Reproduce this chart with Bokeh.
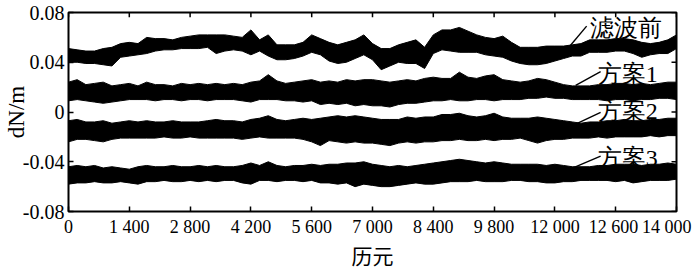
from bokeh.plotting import figure
from bokeh.models import FixedTicker, Range1d
from bokeh.core.properties import value
from bokeh.embed import file_html
from bokeh.resources import INLINE

# ---------------- data ----------------
epochs = list(range(0, 14001, 200))

raw_upper = [0.051, 0.050, 0.049, 0.049, 0.051, 0.052, 0.055, 0.056, 0.055, 0.060,
             0.059, 0.059, 0.058, 0.060, 0.061, 0.062, 0.062, 0.062, 0.062, 0.061,
             0.060, 0.066, 0.058, 0.062, 0.054, 0.054, 0.054, 0.056, 0.062, 0.059,
             0.056, 0.054, 0.056, 0.058, 0.062, 0.055, 0.051, 0.051, 0.054, 0.056,
             0.058, 0.052, 0.062, 0.066, 0.066, 0.068, 0.065, 0.062, 0.060, 0.059,
             0.061, 0.056, 0.052, 0.052, 0.052, 0.053, 0.053, 0.053, 0.054, 0.055,
             0.058, 0.058, 0.058, 0.059, 0.059, 0.058, 0.056, 0.055, 0.056, 0.058,
             0.062]
raw_lower = [0.040, 0.040, 0.039, 0.039, 0.038, 0.037, 0.044, 0.045, 0.046, 0.047,
             0.049, 0.050, 0.050, 0.051, 0.051, 0.051, 0.052, 0.047, 0.049, 0.050,
             0.049, 0.046, 0.049, 0.045, 0.042, 0.042, 0.043, 0.045, 0.048, 0.046,
             0.041, 0.039, 0.040, 0.043, 0.046, 0.042, 0.034, 0.037, 0.040, 0.039,
             0.039, 0.035, 0.047, 0.050, 0.049, 0.048, 0.048, 0.048, 0.046, 0.045,
             0.044, 0.041, 0.039, 0.038, 0.038, 0.039, 0.041, 0.043, 0.045, 0.045,
             0.048, 0.048, 0.048, 0.049, 0.049, 0.047, 0.044, 0.046, 0.047, 0.047,
             0.051]

s1_upper = [0.024, 0.026, 0.022, 0.023, 0.024, 0.021, 0.022, 0.023, 0.021, 0.024,
            0.022, 0.022, 0.021, 0.023, 0.022, 0.023, 0.022, 0.023, 0.022, 0.023,
            0.022, 0.024, 0.025, 0.030, 0.025, 0.023, 0.024, 0.025, 0.026, 0.024,
            0.025, 0.024, 0.026, 0.025, 0.026, 0.026, 0.025, 0.024, 0.025, 0.026,
            0.025, 0.027, 0.028, 0.027, 0.027, 0.032, 0.028, 0.027, 0.029, 0.030,
            0.026, 0.025, 0.024, 0.025, 0.027, 0.026, 0.024, 0.022, 0.021, 0.021,
            0.021, 0.022, 0.022, 0.023, 0.023, 0.022, 0.023, 0.022, 0.023, 0.024,
            0.024]
s1_lower = [0.009, 0.010, 0.009, 0.008, 0.007, 0.008, 0.009, 0.010, 0.010, 0.010,
            0.009, 0.010, 0.010, 0.009, 0.010, 0.010, 0.009, 0.010, 0.010, 0.010,
            0.009, 0.008, 0.010, 0.010, 0.010, 0.009, 0.009, 0.008, 0.009, 0.006,
            0.007, 0.006, 0.007, 0.005, 0.006, 0.005, 0.005, 0.004, 0.006, 0.007,
            0.007, 0.008, 0.009, 0.009, 0.010, 0.009, 0.009, 0.010, 0.010, 0.009,
            0.010, 0.010, 0.010, 0.011, 0.011, 0.012, 0.011, 0.011, 0.010, 0.010,
            0.010, 0.010, 0.009, 0.010, 0.010, 0.009, 0.010, 0.010, 0.011, 0.011,
            0.010]

s2_upper = [-0.007, -0.006, -0.008, -0.008, -0.007, -0.009, -0.008, -0.007, -0.008, -0.007,
            -0.008, -0.008, -0.007, -0.008, -0.008, -0.008, -0.007, -0.006, -0.007, -0.007,
            -0.008, -0.006, -0.005, -0.003, -0.006, -0.007, -0.006, -0.005, -0.006, -0.005,
            -0.004, -0.003, -0.004, -0.003, -0.004, -0.005, -0.006, -0.006, -0.006, -0.004,
            -0.005, -0.004, -0.004, -0.002, -0.002, -0.001, -0.003, -0.004, -0.003, -0.001,
            -0.004, -0.005, -0.005, -0.005, -0.004, -0.005, -0.006, -0.007, -0.008, -0.009,
            -0.008, -0.008, -0.007, -0.007, -0.006, -0.007, -0.007, -0.006, -0.006, -0.005,
            -0.005]
s2_lower = [-0.024, -0.022, -0.022, -0.023, -0.024, -0.022, -0.021, -0.021, -0.021, -0.021,
            -0.021, -0.020, -0.021, -0.021, -0.020, -0.021, -0.021, -0.021, -0.021, -0.021,
            -0.022, -0.021, -0.020, -0.021, -0.021, -0.021, -0.021, -0.022, -0.024, -0.027,
            -0.023, -0.024, -0.025, -0.024, -0.025, -0.025, -0.026, -0.027, -0.025, -0.024,
            -0.025, -0.024, -0.024, -0.023, -0.023, -0.022, -0.023, -0.023, -0.022, -0.023,
            -0.022, -0.022, -0.021, -0.023, -0.025, -0.023, -0.022, -0.022, -0.021, -0.021,
            -0.021, -0.020, -0.021, -0.020, -0.020, -0.020, -0.020, -0.019, -0.020, -0.019,
            -0.019]

s3_upper = [-0.044, -0.043, -0.044, -0.043, -0.045, -0.044, -0.045, -0.046, -0.044, -0.043,
            -0.044, -0.044, -0.043, -0.044, -0.044, -0.043, -0.044, -0.043, -0.044, -0.044,
            -0.043, -0.041, -0.043, -0.040, -0.043, -0.044, -0.043, -0.043, -0.042, -0.043,
            -0.042, -0.042, -0.041, -0.041, -0.040, -0.042, -0.043, -0.044, -0.043, -0.044,
            -0.043, -0.042, -0.041, -0.040, -0.039, -0.038, -0.039, -0.040, -0.041, -0.040,
            -0.041, -0.042, -0.042, -0.042, -0.042, -0.043, -0.042, -0.043, -0.044, -0.044,
            -0.044, -0.043, -0.043, -0.042, -0.042, -0.042, -0.043, -0.042, -0.042, -0.041,
            -0.042]
s3_lower = [-0.058, -0.057, -0.057, -0.056, -0.057, -0.057, -0.056, -0.057, -0.058, -0.056,
            -0.056, -0.055, -0.056, -0.056, -0.055, -0.056, -0.055, -0.056, -0.055, -0.055,
            -0.057, -0.058, -0.055, -0.055, -0.056, -0.055, -0.055, -0.056, -0.055, -0.057,
            -0.057, -0.058, -0.057, -0.060, -0.058, -0.059, -0.060, -0.060, -0.059, -0.058,
            -0.057, -0.058, -0.058, -0.057, -0.056, -0.056, -0.056, -0.055, -0.056, -0.056,
            -0.056, -0.055, -0.055, -0.056, -0.056, -0.057, -0.057, -0.056, -0.056, -0.055,
            -0.055, -0.055, -0.055, -0.056, -0.055, -0.057, -0.056, -0.055, -0.055, -0.055,
            -0.054]

series_names = ["滤波前", "方案1", "方案2", "方案3"]

x_ticks = [0, 1400, 2800, 4200, 5600, 7000, 8400, 9800, 11200, 12600, 14000]
x_tick_labels = ["0", "1 400", "2 800", "4 200", "5 600", "7 000", "8 400",
                 "9 800", "12 000", "12 600\u00a0", "14 000\u00a0\u00a0"]
y_ticks = [-0.08, -0.04, 0, 0.04, 0.08]
y_tick_labels = ["-0.08", "-0.04", "0", "0.04", "0.08"]
x_title = "历元"
y_title = "dN/m"

# ---------------- layout helpers ----------------
W, H = 700, 272
X0, X1, Y0, Y1 = 0, 14000, -0.08, 0.08
FL, FR, FT, FB = 67, 676, 12, 217          # frame edges in pixels
xpp = (X1 - X0) / (FR - FL)
ypp = (Y1 - Y0) / (FB - FT)


def dx(px):
    return X0 + (px - FL) * xpp


def dy(py):
    return Y0 + (FB - py) * ypp


SERIF = "Liberation Serif"
CJK = "Noto Sans CJK SC"

p = figure(width=W, height=H, output_backend="svg", toolbar_location=None,
           x_range=Range1d(X0, X1), y_range=Range1d(Y0, Y1),
           min_border_left=FL, min_border_right=W - FR,
           min_border_top=FT, min_border_bottom=H - FB,
           x_axis_label=x_title, y_axis_label=y_title)
p.xgrid.visible = False
p.ygrid.visible = False
p.background_fill_color = "white"
p.border_fill_color = "white"
p.outline_line_color = "black"
p.outline_line_width = 2
p.outline_line_alpha = 1

for lo, hi in [(raw_lower, raw_upper), (s1_lower, s1_upper),
               (s2_lower, s2_upper), (s3_lower, s3_upper)]:
    p.varea(x=epochs, y1=lo, y2=hi, fill_color="black")
    p.line(x=epochs, y=hi, line_color="black", line_width=1)
    p.line(x=epochs, y=lo, line_color="black", line_width=1)

# axes
xa = p.xaxis[0]
ya = p.yaxis[0]
xa.ticker = FixedTicker(ticks=x_ticks)
ya.ticker = FixedTicker(ticks=y_ticks)
xa.major_label_overrides = {t: l for t, l in zip(x_ticks, x_tick_labels)}
ya.major_label_overrides = {t: l for t, l in zip(y_ticks, y_tick_labels)}
for ax in (xa, ya):
    ax.major_label_text_font = SERIF
    ax.major_label_text_color = "black"
    ax.major_tick_in = 5
    ax.major_tick_out = 0
    ax.major_tick_line_width = 1.5
    ax.major_tick_line_color = "black"
    ax.minor_tick_line_color = None
    ax.axis_line_color = None
    ax.axis_label_text_font_style = "normal"
    ax.axis_label_text_color = "black"
xa.major_label_text_font_size = "18px"
ya.major_label_text_font_size = "20px"
xa.major_label_standoff = 5
ya.major_label_standoff = 4
xa.axis_label_text_font = CJK
xa.axis_label_text_font_size = "21px"
xa.axis_label_standoff = 0
ya.axis_label_text_font = SERIF
ya.axis_label_text_font_size = "23px"
ya.axis_label_standoff = -9

# ticks on the top and right edges of the box
nx, ny = len(x_ticks), len(y_ticks)
p.segment(x0=x_ticks, y0=[Y1] * nx, x1=x_ticks, y1=[Y1 - 5 * ypp] * nx,
          line_color="black", line_width=1.5)
p.segment(x0=[X1] * ny, y0=y_ticks, x1=[X1 - 5 * xpp] * ny, y1=y_ticks,
          line_color="black", line_width=1.5)

# leader lines and series labels
lead_px = [(568, 48, 586, 26), (575, 87, 600, 73), (575, 127, 600, 115), (570, 173, 600, 160)]
p.segment(x0=[dx(a) for a, b, c, d in lead_px], y0=[dy(b) for a, b, c, d in lead_px],
          x1=[dx(c) for a, b, c, d in lead_px], y1=[dy(d) for a, b, c, d in lead_px],
          line_color="black", line_width=1.4)
text_px = [(589, 28), (597, 75), (597, 113), (597, 162)]
p.text(x=[dx(a) for a, b in text_px], y=[dy(b) for a, b in text_px], text=series_names,
       text_font=value(SERIF), text_font_size="24px", text_color="black",
       text_baseline="middle", text_align="left")

open("out.html", "w").write(file_html(p, INLINE))
